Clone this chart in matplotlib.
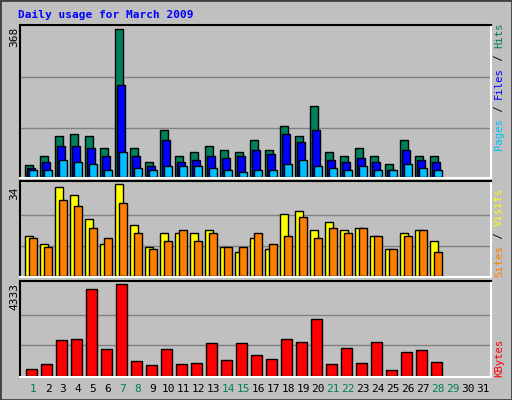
import matplotlib
matplotlib.use("Agg")
import matplotlib.pyplot as plt

days = list(range(1, 32))
n = 28
hits = [29,51,101,106,103,71,368,71,36,116,51,63,76,68,63,93,66,128,103,178,63,53,71,51,31,91,51,51]
files = [21,38,78,78,73,53,228,51,28,91,38,43,53,48,51,66,56,108,86,118,41,38,46,36,18,68,41,38]
pages = [16,16,43,38,31,16,61,23,16,26,26,26,23,16,13,18,16,31,41,26,23,18,26,16,16,31,21,18]
visits = [15,12,33,30,21,12,34,19,11,16,16,16,17,11,9,14,10,23,24,17,20,17,18,15,10,16,17,13]
sites = [14,11,28,26,18,14,27,16,10,13,17,13,16,11,11,16,12,15,22,14,18,16,18,15,10,15,17,9]
kbytes = [300,538,1676,1724,4096,1249,4333,680,490,1249,538,585,1534,727,1534,965,775,1724,1581,2672,538,1297,585,1581,253,1107,1202,632]
weekend = {1,7,8,14,15,21,22,28,29}

BG = "#C0C0C0"
GREEN = "#00805C"
fig = plt.figure(figsize=(5.12, 4.0), dpi=100, facecolor=BG)
fig.patches.append(plt.Rectangle((0, 0), 1, 1, transform=fig.transFigure, fill=False,
                                 edgecolor="#404040", linewidth=2))
W, H = 512, 400
def mkax(y0, y1):
    ax = fig.add_axes([20/W, 1-y1/H, 471/W, (y1-y0)/H])
    ax.set_facecolor(BG)
    ax.set_xlim(0.13, 31.53)
    ax.set_xticks([]); ax.set_yticks([])
    for s in ax.spines.values():
        s.set_linewidth(1.5)
    ax.spines['left'].set_color('black'); ax.spines['top'].set_color('black')
    ax.spines['right'].set_color('white'); ax.spines['bottom'].set_color('white')
    return ax

fnt = dict(family="DejaVu Sans Mono", fontsize=8)
x = days[:n]
ek = dict(edgecolor="black", linewidth=1, align="edge")

ax1 = mkax(25, 178)
ax1.set_ylim(-3, 379)
for g in (123, 250):
    ax1.axhline(g, color="#808080", lw=1, zorder=0)
ax1.bar([d-0.53 for d in x], hits, width=0.53, color=GREEN, **ek)
ax1.bar([d-0.4 for d in x], files, width=0.53, color="#0000FF", **ek)
ax1.bar([d-0.27 for d in x], pages, width=0.53, color="#00C0FF", **ek)

ax2 = mkax(181, 277)
ax2.set_ylim(-0.26, 35.2)
for g in (11.3, 22.7):
    ax2.axhline(g, color="#808080", lw=1, zorder=0)
ax2.bar([d-0.53 for d in x], visits, width=0.53, color="#FFFF00", **ek)
ax2.bar([d-0.27 for d in x], sites, width=0.53, color="#FF8000", **ek)

ax3 = mkax(281, 377)
ax3.set_ylim(-62, 4490)
for g in (1444, 2889):
    ax3.axhline(g, color="#808080", lw=1, zorder=0)
ax3.bar([d-0.47 for d in x], kbytes, width=0.7, color="#FF0000", **ek)

fig.text(18/W, 1-15/H, "Daily usage for March 2009", color="#0000FF",
         fontweight="bold", va="center", ha="left", **fnt)
for ypix, lab in ((37, "368"), (193, "34"), (296, "4333")):
    fig.text(14/W, 1-ypix/H, lab, rotation=90, va="center", ha="center", **fnt)
for d in days:
    fig.text((33+15*(d-1))/W, 1-389/H, str(d), ha="center", va="center",
             color=GREEN if d in weekend else "black", **fnt)

rfnt = dict(family="DejaVu Sans Mono", fontsize=7.6)
def vlabel(parts, ybottom):
    full = "".join(p for p, _ in parts)
    t = fig.text(0, 0, full, **rfnt)
    r = fig.canvas.get_renderer()
    cw = t.get_window_extent(r).width / len(full)
    t.remove()
    y = ybottom
    for txt, col in parts:
        fig.text(499/W, 1-y/H, txt.replace(" ", "\u00a0"), rotation=90, color=col,
                 ha="center", va="bottom", **rfnt)
        y -= len(txt) * cw
vlabel([("Pages", "#00C0FF"), (" / ", "black"), ("Files", "#0000FF"), (" / ", "black"), ("Hits", GREEN)], 150)
vlabel([("Sites", "#FF8000"), (" / ", "black"), ("Visits", "#FFFF00")], 277)
vlabel([("KBytes", "#FF0000")], 377)

fig.savefig("out.png", dpi=100, facecolor=BG)
